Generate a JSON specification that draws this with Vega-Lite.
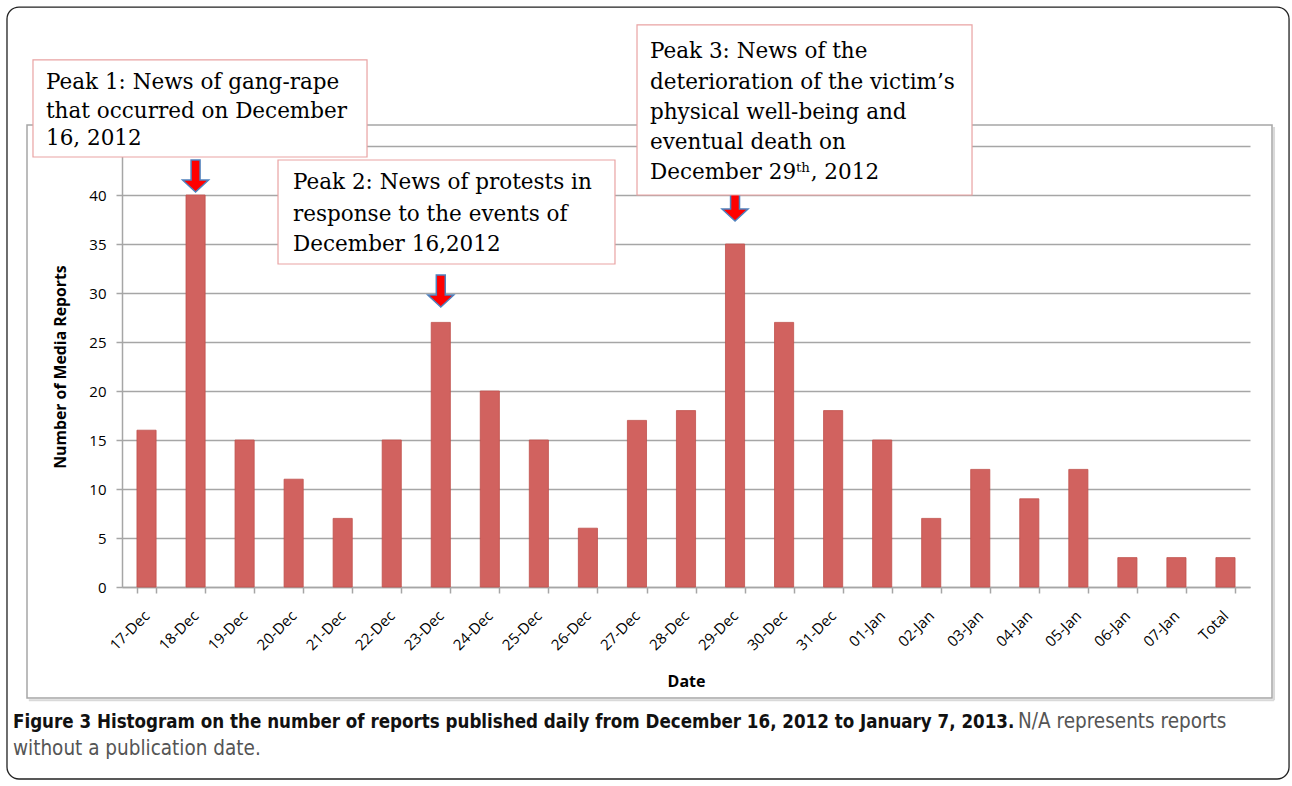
{
  "$schema": "https://vega.github.io/schema/vega-lite/v6.json",
  "width": 1128,
  "height": 441,
  "autosize": {"type": "none"},
  "padding": {"left": 122, "top": 146, "right": 42, "bottom": 199},
  "background": "white",
  "config": {"font": "Open Sans", "view": {"stroke": null}},
  "resolve": {"scale": {"x": "independent"}, "axis": {"x": "independent", "y": "independent"}},
  "layer": [
    {
      "data": {"values": [{"x1": -2.845, "x2": 23.296, "y1": 59.18, "y2": -19.59}]},
      "mark": {"type": "rect", "fill": "transparent", "stroke": "#222222", "strokeWidth": 1.3, "cornerRadius": 12},
      "encoding": {
        "x": {"field": "x1", "type": "quantitative", "scale": {"domain": [-0.5, 22.5], "nice": false, "zero": false}, "axis": null},
        "x2": {"field": "x2"},
        "y": {"field": "y1", "type": "quantitative", "scale": {"domain": [0, 45], "nice": false, "zero": false}, "axis": null},
        "y2": {"field": "y2"}
      }
    },
    {
      "data": {"values": [
        {"x1": 22.99, "x2": 22.99, "y1": 46.94, "y2": -11.55},
        {"x1": -2.40, "x2": 22.99, "y1": -11.55, "y2": -11.55}
      ]},
      "mark": {"type": "rule", "stroke": "#d9d9d9", "strokeWidth": 2},
      "encoding": {
        "x": {"field": "x1", "type": "quantitative", "scale": {"domain": [-0.5, 22.5], "nice": false, "zero": false}, "axis": null},
        "x2": {"field": "x2"},
        "y": {"field": "y1", "type": "quantitative", "scale": {"domain": [0, 45], "nice": false, "zero": false}, "axis": null},
        "y2": {"field": "y2"}
      }
    },
    {
      "data": {"values": [{"x1": -2.437, "x2": 22.949, "y1": 47.14, "y2": -11.33}]},
      "mark": {"type": "rect", "fill": "transparent", "stroke": "#a6a6a6", "strokeWidth": 1.5},
      "encoding": {
        "x": {"field": "x1", "type": "quantitative", "scale": {"domain": [-0.5, 22.5], "nice": false, "zero": false}, "axis": null},
        "x2": {"field": "x2"},
        "y": {"field": "y1", "type": "quantitative", "scale": {"domain": [0, 45], "nice": false, "zero": false}, "axis": null},
        "y2": {"field": "y2"}
      }
    },
    {
      "data": {"values": [
        {"date": "17-Dec", "reports": 16},
        {"date": "18-Dec", "reports": 40},
        {"date": "19-Dec", "reports": 15},
        {"date": "20-Dec", "reports": 11},
        {"date": "21-Dec", "reports": 7},
        {"date": "22-Dec", "reports": 15},
        {"date": "23-Dec", "reports": 27},
        {"date": "24-Dec", "reports": 20},
        {"date": "25-Dec", "reports": 15},
        {"date": "26-Dec", "reports": 6},
        {"date": "27-Dec", "reports": 17},
        {"date": "28-Dec", "reports": 18},
        {"date": "29-Dec", "reports": 35},
        {"date": "30-Dec", "reports": 27},
        {"date": "31-Dec", "reports": 18},
        {"date": "01-Jan", "reports": 15},
        {"date": "02-Jan", "reports": 7},
        {"date": "03-Jan", "reports": 12},
        {"date": "04-Jan", "reports": 9},
        {"date": "05-Jan", "reports": 12},
        {"date": "06-Jan", "reports": 3},
        {"date": "07-Jan", "reports": 3},
        {"date": "Total", "reports": 3}
      ]},
      "mark": {"type": "bar", "fill": "#d1625f", "stroke": "#c0504d", "strokeWidth": 0.8},
      "encoding": {
        "x": {
          "field": "date", "type": "nominal", "sort": null,
          "scale": {"paddingInner": 0.61, "paddingOuter": 0.305},
          "axis": {
            "title": "Date", "labelAngle": -45, "labelFontSize": 15, "labelColor": "#000000",
            "domainColor": "#a6a6a6", "domainWidth": 1.5, "tickColor": "#a6a6a6", "tickWidth": 1.5,
            "tickSize": 6, "tickBand": "extent", "labelPadding": 15, "labelOffset": -5, "zindex": 0,
            "titleFontSize": 16, "titleFontWeight": "bold", "titleColor": "#000000", "titlePadding": 21
          }
        },
        "y": {
          "field": "reports", "type": "quantitative",
          "scale": {"domain": [0, 45], "nice": false, "zero": false},
          "axis": {
            "title": "Number of Media Reports", "values": [0, 5, 10, 15, 20, 25, 30, 35, 40, 45],
            "labelExpr": "datum.value == 45 ? '' : datum.label", "zindex": 0,
            "grid": true, "gridColor": "#a6a6a6", "gridWidth": 1.5,
            "domainColor": "#a6a6a6", "domainWidth": 1.5, "tickColor": "#a6a6a6", "tickWidth": 1.5, "tickSize": 6,
            "labelFontSize": 15, "labelColor": "#000000", "labelPadding": 10,
            "titleFontSize": 15.8, "titleFontWeight": "bold", "titleColor": "#000000", "titlePadding": 20
          }
        }
      }
    },
    {
      "data": {"values": [
        {"xi": 1, "y": 41.94},
        {"xi": 6, "y": 30.2},
        {"xi": 12, "y": 38.98}
      ]},
      "mark": {"type": "point", "filled": true, "fill": "#ff0000", "stroke": "#4f81bd", "strokeWidth": 1.5, "opacity": 1, "size": 1024,
        "shape": "M-0.28,-1L0.28,-1L0.28,0.25L0.81,0.25L0,1L-0.81,0.25L-0.28,0.25Z"},
      "encoding": {
        "x": {"field": "xi", "type": "quantitative", "scale": {"domain": [-0.5, 22.5], "nice": false, "zero": false}, "axis": null},
        "y": {"field": "y", "type": "quantitative", "scale": {"domain": [0, 45], "nice": false, "zero": false}, "axis": null}
      }
    },
    {
      "data": {"values": [
        {"x1": -2.315, "x2": 4.496, "y1": 53.78, "y2": 43.88},
        {"x1": 2.681, "x2": 9.552, "y1": 43.57, "y2": 32.96},
        {"x1": 10.001, "x2": 16.832, "y1": 57.35, "y2": 40.0}
      ]},
      "mark": {"type": "rect", "fill": "#ffffff", "stroke": "#e9a3a3", "strokeWidth": 1.2},
      "encoding": {
        "x": {"field": "x1", "type": "quantitative", "scale": {"domain": [-0.5, 22.5], "nice": false, "zero": false}, "axis": null},
        "x2": {"field": "x2"},
        "y": {"field": "y1", "type": "quantitative", "scale": {"domain": [0, 45], "nice": false, "zero": false}, "axis": null},
        "y2": {"field": "y2"}
      }
    },
    {
      "data": {"values": [
        {"xi": -2.05, "y": 51.43, "line": "Peak 1: News of gang-rape"},
        {"xi": -2.05, "y": 48.47, "line": "that occurred on December"},
        {"xi": -2.05, "y": 45.71, "line": "16, 2012"},
        {"xi": 2.987, "y": 41.22, "line": "Peak 2: News of protests in"},
        {"xi": 2.987, "y": 37.96, "line": "response to the events of"},
        {"xi": 2.987, "y": 34.9, "line": "December 16,2012"},
        {"xi": 10.266, "y": 54.59, "line": "Peak 3: News of the"},
        {"xi": 10.266, "y": 51.43, "line": "deterioration of the victim’s"},
        {"xi": 10.266, "y": 48.37, "line": "physical well-being and"},
        {"xi": 10.266, "y": 45.31, "line": "eventual death on"},
        {"xi": 10.266, "y": 42.24, "line": "December 29ᵗʰ, 2012"}
      ]},
      "mark": {"type": "text", "align": "left", "baseline": "middle", "font": "DejaVu Serif", "fontSize": 21.5, "color": "#000000"},
      "encoding": {
        "x": {"field": "xi", "type": "quantitative", "scale": {"domain": [-0.5, 22.5], "nice": false, "zero": false}, "axis": null},
        "y": {"field": "y", "type": "quantitative", "scale": {"domain": [0, 45], "nice": false, "zero": false}, "axis": null},
        "text": {"field": "line"}
      }
    },
    {
      "data": {"values": [
        {"xi": -2.723, "y": -13.78, "line": "Figure 3 Histogram on the number of reports published daily from December 16, 2012 to January 7, 2013."}
      ]},
      "mark": {"type": "text", "align": "left", "baseline": "middle", "font": "DejaVu Sans Condensed", "fontWeight": "bold", "fontSize": 18.6, "color": "#111111"},
      "encoding": {
        "x": {"field": "xi", "type": "quantitative", "scale": {"domain": [-0.5, 22.5], "nice": false, "zero": false}, "axis": null},
        "y": {"field": "y", "type": "quantitative", "scale": {"domain": [0, 45], "nice": false, "zero": false}, "axis": null},
        "text": {"field": "line"}
      }
    },
    {
      "data": {"values": [
        {"xi": 17.77, "y": -13.78, "line": "N/A represents reports"},
        {"xi": -2.723, "y": -16.53, "line": "without a publication date."}
      ]},
      "mark": {"type": "text", "align": "left", "baseline": "middle", "font": "DejaVu Sans Condensed", "fontSize": 20.5, "color": "#555555"},
      "encoding": {
        "x": {"field": "xi", "type": "quantitative", "scale": {"domain": [-0.5, 22.5], "nice": false, "zero": false}, "axis": null},
        "y": {"field": "y", "type": "quantitative", "scale": {"domain": [0, 45], "nice": false, "zero": false}, "axis": null},
        "text": {"field": "line"}
      }
    }
  ]
}
